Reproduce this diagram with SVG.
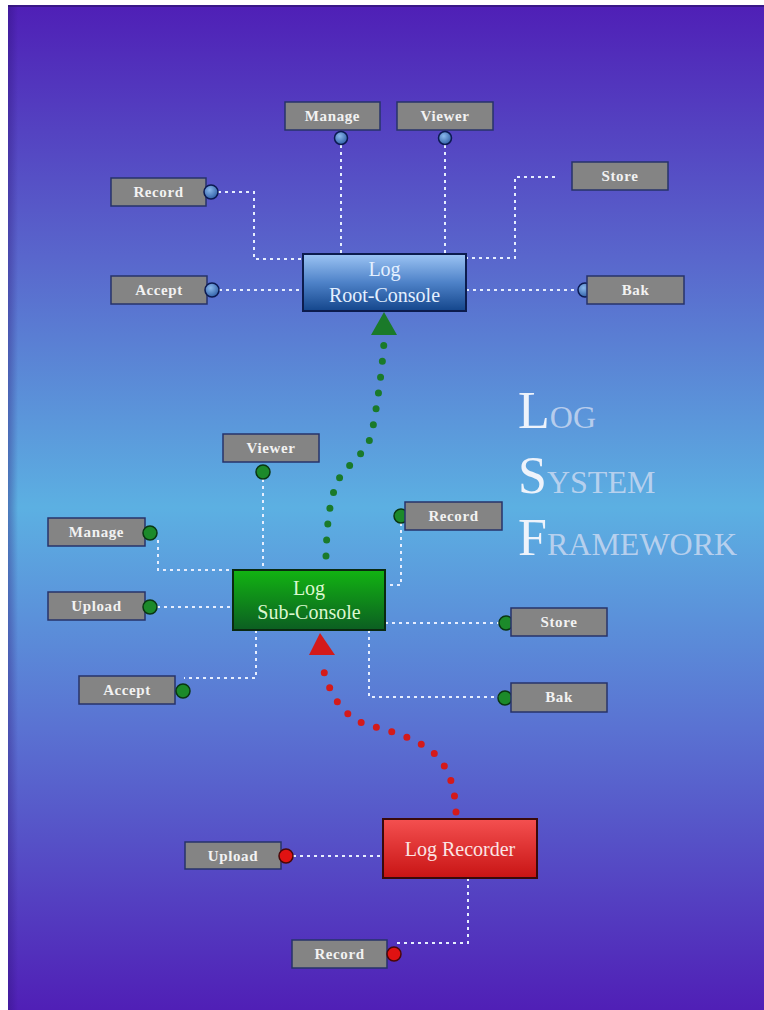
<svg xmlns="http://www.w3.org/2000/svg" width="764" height="1010" viewBox="0 0 764 1010">
  <defs>
    <linearGradient id="bg" x1="0" y1="0" x2="0" y2="1">
      <stop offset="0" stop-color="#4f1fb6"/>
      <stop offset="0.25" stop-color="#5966cc"/>
      <stop offset="0.5" stop-color="#5cb0e2"/>
      <stop offset="0.72" stop-color="#5a72d2"/>
      <stop offset="1" stop-color="#501fb6"/>
    </linearGradient>
    <linearGradient id="edge" x1="0" y1="0" x2="1" y2="0">
      <stop offset="0" stop-color="#2a1070" stop-opacity="0.35"/>
      <stop offset="1" stop-color="#2a1070" stop-opacity="0"/>
    </linearGradient>
    <linearGradient id="gBlue" x1="0" y1="0" x2="0" y2="1">
      <stop offset="0" stop-color="#9cc4f4"/>
      <stop offset="0.5" stop-color="#4e82c8"/>
      <stop offset="1" stop-color="#14468c"/>
    </linearGradient>
    <linearGradient id="gGreen" x1="0" y1="0" x2="0" y2="1">
      <stop offset="0" stop-color="#12b412"/>
      <stop offset="1" stop-color="#0c5e22"/>
    </linearGradient>
    <linearGradient id="gRed" x1="0" y1="0" x2="0" y2="1">
      <stop offset="0" stop-color="#f45050"/>
      <stop offset="1" stop-color="#c81414"/>
    </linearGradient>
    <radialGradient id="pBlue" cx="0.4" cy="0.35" r="0.7">
      <stop offset="0" stop-color="#8ab8ec"/>
      <stop offset="1" stop-color="#2c5ca4"/>
    </radialGradient>
    <style>
      .lbl rect { fill: #848484; stroke: #27336a; stroke-width: 1.5; }
      .lbl text { font-family: "Liberation Serif", "DejaVu Serif", serif; font-weight: bold; font-size: 15px; letter-spacing: 0.6px; fill: #f2f2f2; text-anchor: middle; }
      .pin-b { fill: url(#pBlue); stroke: #0c1a52; stroke-width: 1.5; }
      .pin-g { fill: #1c8a2a; stroke: #0a3612; stroke-width: 1.5; }
      .pin-r { fill: #e01212; stroke: #4a0808; stroke-width: 1.5; }
      .node-text { font-family: "Liberation Serif", "DejaVu Serif", serif; font-size: 20px; text-anchor: middle; }
      .wire { fill: none; stroke: #e6eeff; stroke-width: 2; stroke-dasharray: 3 4; }
      .flow { fill: none; stroke-width: 7; stroke-linecap: round; stroke-dasharray: 0 16; }
      .title { font-family: "Liberation Serif", "DejaVu Serif", serif; fill: #eef3fb; }
      .title tspan.sc { font-size: 32px; fill: #d0dcf2; fill-opacity: 0.8; }
    </style>
  </defs>

  <!-- backdrop -->
  <rect x="0" y="0" width="764" height="1010" fill="#ffffff"/>
  <rect x="8" y="5" width="756" height="1005" fill="url(#bg)"/>
  <rect x="8" y="5" width="10" height="1005" fill="url(#edge)"/>
  <rect x="8" y="5" width="756" height="2" fill="#2c1468" fill-opacity="0.6"/>

  <!-- connectors -->
  <g id="connectors">
    <!-- root console wires -->
    <path class="wire" d="M218,192 H254 V259 H303"/>
    <path class="wire" d="M219,290 H303"/>
    <path class="wire" d="M341,145 V254"/>
    <path class="wire" d="M445,145 V254"/>
    <path class="wire" d="M555,177 H515 V258 H466"/>
    <path class="wire" d="M466,290 H578"/>
    <!-- sub console wires -->
    <path class="wire" d="M263,479 V570"/>
    <path class="wire" d="M158,540 V570 H233"/>
    <path class="wire" d="M157,607 H233"/>
    <path class="wire" d="M256,630 V678 H184"/>
    <path class="wire" d="M401,523 V585 H385"/>
    <path class="wire" d="M385,623 H499"/>
    <path class="wire" d="M369,630 V697 H499"/>
    <!-- recorder wires -->
    <path class="wire" d="M293,856 H383"/>
    <path class="wire" d="M468,878 V943 H394"/>
    <!-- upward flows -->
    <path class="flow" stroke="#1a7a2a" d="M326,556 C327,520 330,495 340,477 C350,462 368,452 372,432 C378,400 382,370 384,342"/>
    <polygon fill="#1a7a2a" points="384,312 397,335 371,335"/>
    <path class="flow" stroke="#d41a1a" d="M456,812 C455,790 450,765 430,750 C410,735 385,730 365,724 C340,715 328,690 322,664"/>
    <polygon fill="#d41a1a" points="320,633 335,655 309,655"/>
  </g>

  <!-- Log Root-Console -->
  <g id="root-console">
    <rect x="303" y="254" width="163" height="57" fill="url(#gBlue)" stroke="#0c1c4e" stroke-width="2"/>
    <text class="node-text" x="384.5" y="276" fill="#e4f0ff">Log</text>
    <text class="node-text" x="384.5" y="302" fill="#e4f0ff">Root-Console</text>
  </g>
  <g id="root-manage" class="lbl">
    <rect x="285" y="102" width="95" height="28"/>
    <text x="332.5" y="121">Manage</text>
    <circle class="pin-b" cx="341" cy="138" r="6.5"/>
  </g>
  <g id="root-viewer" class="lbl">
    <rect x="397" y="102" width="96" height="28"/>
    <text x="445" y="121">Viewer</text>
    <circle class="pin-b" cx="445" cy="138" r="6.5"/>
  </g>
  <g id="root-record" class="lbl">
    <rect x="111" y="178" width="95" height="28"/>
    <text x="158.5" y="197">Record</text>
    <circle class="pin-b" cx="211" cy="192" r="7"/>
  </g>
  <g id="root-accept" class="lbl">
    <rect x="111" y="276" width="96" height="28"/>
    <text x="159" y="295">Accept</text>
    <circle class="pin-b" cx="212" cy="290" r="7"/>
  </g>
  <g id="root-store" class="lbl">
    <rect x="572" y="162" width="96" height="28"/>
    <text x="620" y="181">Store</text>
  </g>
  <g id="root-bak" class="lbl">
    <circle class="pin-b" cx="585" cy="290" r="7"/>
    <rect x="587" y="276" width="97" height="28"/>
    <text x="635.5" y="295">Bak</text>
  </g>

  <!-- Log Sub-Console -->
  <g id="sub-console">
    <rect x="233" y="570" width="152" height="60" fill="url(#gGreen)" stroke="#0a2a10" stroke-width="2"/>
    <text class="node-text" x="309" y="595" fill="#dcf8d0">Log</text>
    <text class="node-text" x="309" y="619" fill="#dcf8d0">Sub-Console</text>
  </g>
  <g id="sub-viewer" class="lbl">
    <rect x="223" y="434" width="96" height="28"/>
    <text x="271" y="453">Viewer</text>
    <circle class="pin-g" cx="263" cy="472" r="7"/>
  </g>
  <g id="sub-manage" class="lbl">
    <rect x="48" y="518" width="97" height="28"/>
    <text x="96.5" y="537">Manage</text>
    <circle class="pin-g" cx="150" cy="533" r="7"/>
  </g>
  <g id="sub-upload" class="lbl">
    <rect x="48" y="592" width="97" height="28"/>
    <text x="96.5" y="611">Upload</text>
    <circle class="pin-g" cx="150" cy="607" r="7"/>
  </g>
  <g id="sub-accept" class="lbl">
    <rect x="79" y="676" width="96" height="28"/>
    <text x="127" y="695">Accept</text>
    <circle class="pin-g" cx="183" cy="691" r="7"/>
  </g>
  <g id="sub-record" class="lbl">
    <circle class="pin-g" cx="401" cy="516" r="7"/>
    <rect x="405" y="502" width="97" height="28"/>
    <text x="453.5" y="521">Record</text>
  </g>
  <g id="sub-store" class="lbl">
    <circle class="pin-g" cx="506" cy="623" r="7"/>
    <rect x="511" y="608" width="96" height="28"/>
    <text x="559" y="627">Store</text>
  </g>
  <g id="sub-bak" class="lbl">
    <circle class="pin-g" cx="505" cy="698" r="7"/>
    <rect x="511" y="683" width="96" height="29"/>
    <text x="559" y="702">Bak</text>
  </g>

  <!-- Log Recorder -->
  <g id="log-recorder">
    <rect x="383" y="819" width="154" height="59" fill="url(#gRed)" stroke="#3a0a0a" stroke-width="2"/>
    <text class="node-text" x="460" y="856" fill="#fbe4e4">Log Recorder</text>
  </g>
  <g id="rec-upload" class="lbl">
    <rect x="185" y="842" width="96" height="27"/>
    <text x="233" y="861">Upload</text>
    <circle class="pin-r" cx="286" cy="856" r="7"/>
  </g>
  <g id="rec-record" class="lbl">
    <rect x="292" y="940" width="95" height="28"/>
    <text x="339.5" y="959">Record</text>
    <circle class="pin-r" cx="394" cy="954" r="7"/>
  </g>

  <!-- heading -->
  <g id="heading">
    <text class="title" x="518" y="428" font-size="52">L<tspan class="sc">OG</tspan></text>
    <text class="title" x="518" y="493" font-size="52">S<tspan class="sc">YSTEM</tspan></text>
    <text class="title" x="518" y="555" font-size="52">F<tspan class="sc">RAMEWORK</tspan></text>
  </g>
</svg>
